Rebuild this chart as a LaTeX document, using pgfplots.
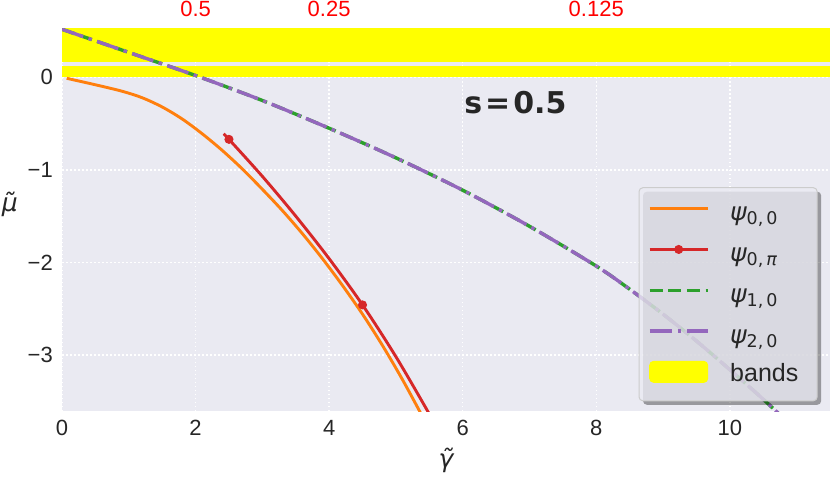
\documentclass[border=0pt]{standalone}
\usepackage{fontspec}
\setmainfont{Liberation Sans}
\newfontfamily\djv{DejaVu Sans}
\usepackage{pgfplots}
\pgfplotsset{compat=1.18}
\usetikzlibrary{shadows}
\makeatletter
\tikzset{nopre/.code={\let\tikz@preactions\pgfutil@empty}}
\makeatother
\definecolor{bg}{HTML}{EAEAF2}
\definecolor{c1}{HTML}{FF7F0E}
\definecolor{c2}{HTML}{D62728}
\definecolor{c3}{HTML}{2CA02C}
\definecolor{c4}{HTML}{9467BD}
\definecolor{txt}{HTML}{262626}
\definecolor{yel}{HTML}{FFFF00}
\newcommand{\psil}[1]{\raisebox{-2.6pt}{{\djv\itshape ψ}{\djv\fontsize{17.5}{20}\selectfont\raisebox{-4pt}{#1}}}}
\begin{document}
\begin{tikzpicture}
\begin{axis}[
  width=768pt, height=382pt, scale only axis,
  xmin=0, xmax=11.5, ymin=-3.607, ymax=0.523,
  axis background/.style={fill=bg},
  axis line style={draw=none},
  major tick length=0pt,
  xtick={0,2,4,6,8,10}, xticklabels={0,2,4,6,8,10},
  ytick={-3,-2,-1,0}, yticklabels={−3,−2,−1,0},
  grid=major,
  major grid style={white, line width=1.5pt, dash pattern=on 1.5pt off 2.5pt},
  tick label style={font=\fontsize{22}{26}\selectfont, text=txt, inner sep=0pt},
  xticklabel style={anchor=north, yshift=-9pt},
  yticklabel style={anchor=east, xshift=-9pt},
  xlabel={\fontsize{25}{30}\selectfont\djv\itshape γ̃},
  ylabel={\fontsize{25}{30}\selectfont\djv\itshape μ̃},
  xlabel style={at={(axis description cs:0.5,-0.13)}, anchor=center, text=txt},
  ylabel style={at={(axis description cs:-0.068,0.54)}, rotate=-90, anchor=center, text=txt},
  legend cell align=left,
  legend style={at={(0.984,0.586)}, anchor=north east,
    draw=black!20, line width=1pt, fill=bg, fill opacity=0.8, draw opacity=1, text opacity=1,
    rounded corners=4pt,
    drop shadow={shadow xshift=4pt, shadow yshift=-4pt, opacity=0.35, fill=black},
    inner xsep=9pt, inner ysep=4.6pt,
    row sep=0pt, column sep=0pt,
    font=\fontsize{25}{30}\selectfont\color{txt},
    nodes={inner sep=0pt, text height=25.8pt, text depth=15pt, text width=78pt, align=left}},
]
% bands
\addplot[fill=yel, draw=none, forget plot] coordinates {(-1,0) (13,0) (13,0.119) (-1,0.119)} --cycle;
\addplot[fill=yel, draw=none, forget plot] coordinates {(-1,0.162) (13,0.162) (13,1) (-1,1)} --cycle;
% psi 0,0
\addplot[c1, line width=2.9pt, smooth, forget plot] coordinates {
(0.07,-0.01) (0.5,-0.08) (0.9,-0.15) (1.2,-0.22) (1.5,-0.32) (1.8,-0.45) (2.1,-0.61) (2.4,-0.79)
(2.7,-0.99) (3.0,-1.21) (3.3,-1.44) (3.6,-1.69) (3.9,-1.96) (4.2,-2.25) (4.5,-2.56) (4.8,-2.90) (5.1,-3.27) (5.4,-3.67) (5.55,-3.88)};
% psi 0,pi
\addplot[c2, line width=2.9pt, smooth, mark=*, mark size=4pt, mark indices={2,6}, mark options={fill=c2, draw=c2, line width=1pt}, forget plot] coordinates {
(2.42,-0.61) (2.5,-0.67) (3.0,-1.07) (3.5,-1.50) (4.0,-1.96) (4.5,-2.46) (5.0,-3.02) (5.5,-3.64) (5.65,-3.85)};
% psi 1,0
\addplot[c3, line width=3.4pt, smooth, dash pattern=on 13pt off 5.6pt, forget plot] coordinates {
(0,0.52) (1,0.27) (2,0.02) (3,-0.25) (4,-0.55) (5,-0.87) (6,-1.22) (7,-1.61) (8,-2.04) (8.5,-2.29) (9,-2.56) (9.5,-2.85) (10,-3.16) (10.5,-3.48) (10.9,-3.75)};
% psi 2,0
\addplot[c4, line width=3.4pt, smooth, dash pattern=on 22.4pt off 5.6pt on 3.5pt off 5.6pt, forget plot] coordinates {
(0,0.52) (1,0.27) (2,0.02) (3,-0.25) (4,-0.55) (5,-0.87) (6,-1.22) (7,-1.61) (8,-2.04) (8.5,-2.29) (9,-2.56) (9.5,-2.85) (10,-3.16) (10.5,-3.48) (10.9,-3.75)};
\node[font=\djv\bfseries\fontsize{30}{36}\selectfont, text=txt] at (axis cs:6.79,-0.27) {s\hspace{3pt}=\hspace{3pt}0.5};
% legend
\addlegendimage{legend image code/.code={\draw[nopre, c1, line width=2.9pt, opacity=1] (0pt,4pt) -- (58pt,4pt); \path[nopre] (80pt,4pt);}}
\addlegendentry{\psil{0,\,0}}
\addlegendimage{legend image code/.code={\draw[nopre, c2, line width=2.9pt, opacity=1] (0pt,4pt) -- (58pt,4pt); \fill[nopre, c2, opacity=1] (29pt,4pt) circle (4pt); \path[nopre] (80pt,4pt);}}
\addlegendentry{\psil{0,\,{\itshape π}}}
\addlegendimage{legend image code/.code={\draw[nopre, c3, line width=3.4pt, opacity=1, dash pattern=on 13pt off 5.6pt] (0pt,4pt) -- (58pt,4pt); \path[nopre] (80pt,4pt);}}
\addlegendentry{\psil{1,\,0}}
\addlegendimage{legend image code/.code={\draw[nopre, c4, line width=3.4pt, opacity=1, dash pattern=on 22.4pt off 5.6pt on 3.5pt off 5.6pt] (0pt,4pt) -- (58pt,4pt); \path[nopre] (80pt,4pt);}}
\addlegendentry{\psil{2,\,0}}
\addlegendimage{legend image code/.code={\fill[nopre, yel, opacity=1] (0pt,-6.5pt) rectangle (58pt,14.5pt); \path[nopre] (80pt,4pt);}}
\addlegendentry{bands}
\end{axis}
\begin{axis}[
  width=768pt, height=382pt, scale only axis,
  xmin=0, xmax=11.5, ymin=-3.607, ymax=0.523,
  axis x line*=top, axis y line=none,
  axis line style={draw=none},
  major tick length=0pt,
  xtick={2,4,8}, xticklabels={0.5,0.25,0.125},
  xticklabel style={font=\fontsize{22}{26}\selectfont, text=red, inner sep=0pt, anchor=south, yshift=12.3pt},
]
\addplot[draw=none, forget plot] coordinates {(0,0)};
\end{axis}
\pgfresetboundingbox
\path[use as bounding box] (-62pt,-69pt) rectangle (768pt,411pt);
\end{tikzpicture}
\end{document}
